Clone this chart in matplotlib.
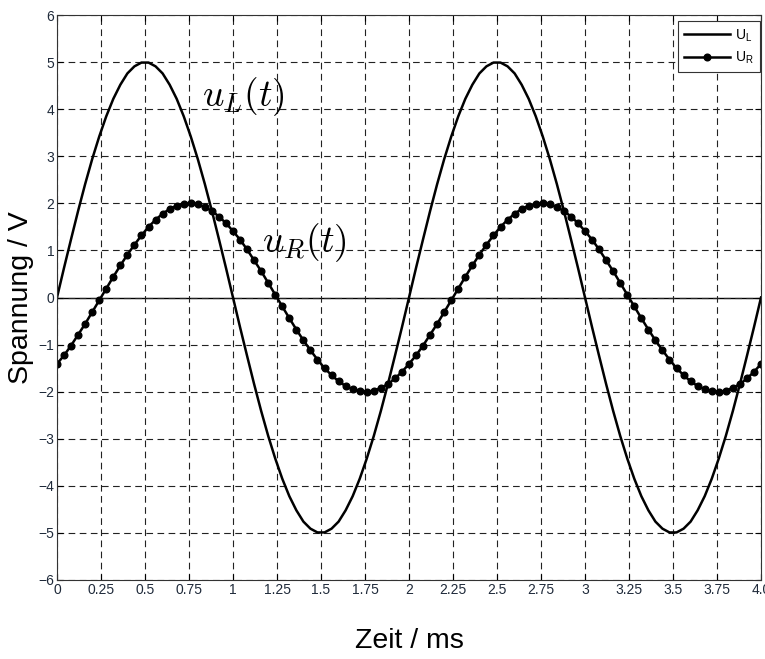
import matplotlib
matplotlib.use("Agg")
import matplotlib.pyplot as plt

# Zeitpunkte in ms (Abtastung 0.04 ms)
zeit = [0.00, 0.04, 0.08, 0.12, 0.16, 0.20, 0.24, 0.28, 0.32, 0.36,
        0.40, 0.44, 0.48, 0.52, 0.56, 0.60, 0.64, 0.68, 0.72, 0.76,
        0.80, 0.84, 0.88, 0.92, 0.96, 1.00, 1.04, 1.08, 1.12, 1.16,
        1.20, 1.24, 1.28, 1.32, 1.36, 1.40, 1.44, 1.48, 1.52, 1.56,
        1.60, 1.64, 1.68, 1.72, 1.76, 1.80, 1.84, 1.88, 1.92, 1.96,
        2.00, 2.04, 2.08, 2.12, 2.16, 2.20, 2.24, 2.28, 2.32, 2.36,
        2.40, 2.44, 2.48, 2.52, 2.56, 2.60, 2.64, 2.68, 2.72, 2.76,
        2.80, 2.84, 2.88, 2.92, 2.96, 3.00, 3.04, 3.08, 3.12, 3.16,
        3.20, 3.24, 3.28, 3.32, 3.36, 3.40, 3.44, 3.48, 3.52, 3.56,
        3.60, 3.64, 3.68, 3.72, 3.76, 3.80, 3.84, 3.88, 3.92, 3.96,
        4.00]

# Spannung an der Spule in V
u_L = [0.00, 0.63, 1.24, 1.84, 2.41, 2.94, 3.42, 3.85, 4.22, 4.52,
       4.76, 4.91, 4.99, 4.99, 4.91, 4.76, 4.52, 4.22, 3.85, 3.42,
       2.94, 2.41, 1.84, 1.24, 0.63, 0.00, -0.63, -1.24, -1.84, -2.41,
       -2.94, -3.42, -3.85, -4.22, -4.52, -4.76, -4.91, -4.99, -4.99, -4.91,
       -4.76, -4.52, -4.22, -3.85, -3.42, -2.94, -2.41, -1.84, -1.24, -0.63,
       0.00, 0.63, 1.24, 1.84, 2.41, 2.94, 3.42, 3.85, 4.22, 4.52,
       4.76, 4.91, 4.99, 4.99, 4.91, 4.76, 4.52, 4.22, 3.85, 3.42,
       2.94, 2.41, 1.84, 1.24, 0.63, 0.00, -0.63, -1.24, -1.84, -2.41,
       -2.94, -3.42, -3.85, -4.22, -4.52, -4.76, -4.91, -4.99, -4.99, -4.91,
       -4.76, -4.52, -4.22, -3.85, -3.42, -2.94, -2.41, -1.84, -1.24, -0.63,
       0.00]

# Spannung am Widerstand in V
u_R = [-1.41, -1.23, -1.02, -0.79, -0.56, -0.31, -0.06, 0.19, 0.44, 0.68,
       0.91, 1.12, 1.32, 1.50, 1.65, 1.78, 1.88, 1.95, 1.99, 2.00,
       1.98, 1.92, 1.84, 1.72, 1.58, 1.41, 1.23, 1.02, 0.79, 0.56,
       0.31, 0.06, -0.19, -0.44, -0.68, -0.91, -1.12, -1.32, -1.50, -1.65,
       -1.78, -1.88, -1.95, -1.99, -2.00, -1.98, -1.92, -1.84, -1.72, -1.58,
       -1.41, -1.23, -1.02, -0.79, -0.56, -0.31, -0.06, 0.19, 0.44, 0.68,
       0.91, 1.12, 1.32, 1.50, 1.65, 1.78, 1.88, 1.95, 1.99, 2.00,
       1.98, 1.92, 1.84, 1.72, 1.58, 1.41, 1.23, 1.02, 0.79, 0.56,
       0.31, 0.06, -0.19, -0.44, -0.68, -0.91, -1.12, -1.32, -1.50, -1.65,
       -1.78, -1.88, -1.95, -1.99, -2.00, -1.98, -1.92, -1.84, -1.72, -1.58,
       -1.41]

x_ticks = [0, 0.25, 0.5, 0.75, 1, 1.25, 1.5, 1.75, 2, 2.25, 2.5, 2.75,
           3, 3.25, 3.5, 3.75, 4]
x_labels = ["0", "0.25", "0.5", "0.75", "1", "1.25", "1.5", "1.75", "2",
            "2.25", "2.5", "2.75", "3", "3.25", "3.5", "3.75", "4.0"]
y_ticks = [-6, -5, -4, -3, -2, -1, 0, 1, 2, 3, 4, 5, 6]

plt.rcParams['font.family'] = ['Liberation Sans', 'DejaVu Sans']
plt.rcParams['mathtext.fontset'] = 'cm'

fig = plt.figure(figsize=(7.65, 6.59), dpi=100)
ax = fig.add_axes([0.0745, 0.1199, 0.9203, 0.8573])

ax.plot(zeit, u_L, color='black', lw=1.8, label=r'U$_\mathregular{L}$')
ax.plot(zeit, u_R, color='black', lw=1.8, marker='o', markersize=4.8,
        label=r'U$_\mathregular{R}$')
ax.axhline(0, color='black', lw=1.0, zorder=1)

ax.set_xlim(0, 4)
ax.set_ylim(-6, 6)
ax.set_xticks(x_ticks)
ax.set_xticklabels(x_labels)
ax.set_yticks(y_ticks)
ax.set_yticklabels([str(v).replace('-', '\u2212') for v in y_ticks])

ax.grid(True, color='#222222', lw=0.8, linestyle=(0, (6, 4)))
ax.tick_params(direction='in', top=True, right=True, length=4,
               labelsize=10, labelcolor='#1f2a3a', pad=2)
for s in ax.spines.values():
    s.set_linewidth(0.8)
    s.set_color('#333333')

ax.set_ylabel('Spannung / V', fontsize=20.5)
ax.yaxis.set_label_coords(-0.032, 0.5)
fig.text(0.535, 0.028, 'Zeit / ms', fontsize=20.5, ha='center', va='center')

ax.text(0.824, 4.26, r'$u_L(t)$', fontsize=27, ha='left', va='center')
ax.text(1.165, 1.16, r'$u_R(t)$', fontsize=27, ha='left', va='center')

leg = ax.legend(loc='upper right', bbox_to_anchor=(0.9985, 0.9894),
                borderaxespad=0, fontsize=10, handlelength=3.3,
                fancybox=False, framealpha=1, edgecolor='#333333',
                handletextpad=0.35, borderpad=0.45, labelspacing=0.45)
leg.get_frame().set_linewidth(0.8)
leg.legend_handles[1].set_markevery([1])

fig.savefig('out.png', dpi=100)
